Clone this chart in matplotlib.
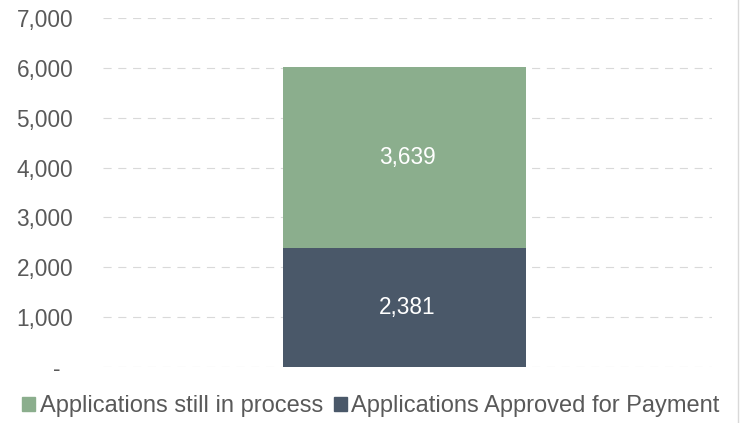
import matplotlib
matplotlib.use("Agg")
import matplotlib.pyplot as plt
from matplotlib.patches import Patch
from matplotlib.ticker import FuncFormatter

categories = [""]
approved = [2381]
in_process = [3639]
yticks = [0, 1000, 2000, 3000, 4000, 5000, 6000, 7000]

plt.rcParams['font.family'] = ['Liberation Sans', 'DejaVu Sans']

fig = plt.figure(figsize=(7.46, 4.23), dpi=100)
ax = fig.add_axes([103/746, 1-367/423, 609/746, (367-18)/423])

c_green = '#8BAE8D'
c_dark = '#4A5869'

x = [0]
ax.bar(x, approved, width=0.399, color=c_dark, zorder=3)
ax.bar(x, in_process, bottom=approved, width=0.399, color=c_green, zorder=3)

for xi, a, p in zip(x, approved, in_process):
    ax.text(xi + 0.005, a / 2, f"{a:,}", ha='center', va='center', color='white', fontsize=16.3, zorder=4)
    ax.text(xi + 0.005, a + p / 2, f"{p:,}", ha='center', va='center', color='white', fontsize=16.3, zorder=4)

ax.set_xlim(-0.5 + 0.005, 0.5 + 0.005)
ax.set_ylim(0, 7000)
ax.set_yticks(yticks)
ax.yaxis.set_major_formatter(FuncFormatter(lambda v, p: '-  ' if v == 0 else f"{int(v):,}"))
ax.set_xticks([])
ax.tick_params(axis='y', length=0, pad=21.5, labelsize=16.3, labelcolor='#595959')
for s in ax.spines.values():
    s.set_visible(False)
ax.yaxis.grid(True, color='#D9D9D9', linestyle=(0, (7.3, 6)), linewidth=0.8, zorder=0)
ax.set_axisbelow(True)

handles = [Patch(color=c_green, label='Applications still in process'),
           Patch(color=c_dark, label='Applications Approved for Payment')]
leg = fig.legend(handles=handles, loc='center', bbox_to_anchor=(371/746, 1-406/423),
                 ncol=2, frameon=False, fontsize=17, handlelength=0.55, handleheight=0.55,
                 handletextpad=0.2, columnspacing=0.45, labelcolor='#595959',
                 borderpad=0, borderaxespad=0)

fig.add_artist(plt.Line2D([737.5/746, 737.5/746], [0, 1], color='#D9D9D9', linewidth=1, transform=fig.transFigure))

fig.savefig('out.png', dpi=100)
